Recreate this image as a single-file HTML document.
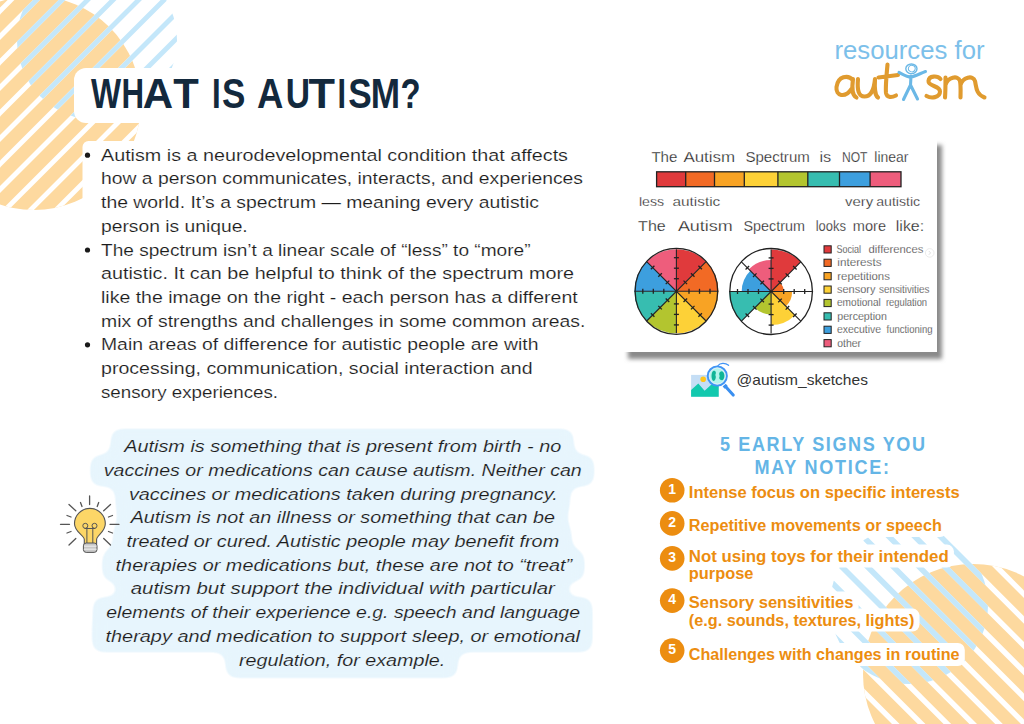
<!DOCTYPE html>
<html><head><meta charset="utf-8">
<style>
html,body{margin:0;padding:0;background:#fff;}
body{width:1024px;height:724px;overflow:hidden;position:relative;font-family:"Liberation Sans",sans-serif;}
svg{position:absolute;left:0;top:0;}
</style></head><body>
<svg width="1024" height="724" viewBox="0 0 1024 724">
<defs>
<clipPath id="co1"><circle cx="34" cy="103" r="107"/></clipPath>
<clipPath id="cb1"><circle cx="97" cy="40" r="80"/></clipPath>
<clipPath id="co2"><circle cx="973" cy="674" r="110"/></clipPath>
<clipPath id="cb2"><circle cx="909" cy="605" r="79"/></clipPath>
<filter id="goo" filterUnits="userSpaceOnUse" x="60" y="400" width="580" height="300"><feGaussianBlur stdDeviation="6.5"/><feComponentTransfer><feFuncA type="linear" slope="8" intercept="-3.5"/></feComponentTransfer></filter>
<filter id="shd" x="-10%" y="-10%" width="130%" height="130%"><feGaussianBlur stdDeviation="2.2"/></filter>
</defs>

<circle cx="34" cy="103" r="107" fill="#fdd99f"/>
<g clip-path="url(#co1)" stroke="#ffffff" stroke-width="4.8"><line x1="-316.00" y1="225" x2="-76.00" y2="-15"/><line x1="-290.50" y1="225" x2="-50.50" y2="-15"/><line x1="-265.00" y1="225" x2="-25.00" y2="-15"/><line x1="-239.50" y1="225" x2="0.50" y2="-15"/><line x1="-214.00" y1="225" x2="26.00" y2="-15"/><line x1="-188.50" y1="225" x2="51.50" y2="-15"/><line x1="-163.00" y1="225" x2="77.00" y2="-15"/><line x1="-137.50" y1="225" x2="102.50" y2="-15"/><line x1="-112.00" y1="225" x2="128.00" y2="-15"/><line x1="-86.50" y1="225" x2="153.50" y2="-15"/><line x1="-61.00" y1="225" x2="179.00" y2="-15"/><line x1="-35.50" y1="225" x2="204.50" y2="-15"/><line x1="-10.00" y1="225" x2="230.00" y2="-15"/><line x1="15.50" y1="225" x2="255.50" y2="-15"/><line x1="41.00" y1="225" x2="281.00" y2="-15"/><line x1="66.50" y1="225" x2="306.50" y2="-15"/><line x1="92.00" y1="225" x2="332.00" y2="-15"/><line x1="117.50" y1="225" x2="357.50" y2="-15"/><line x1="143.00" y1="225" x2="383.00" y2="-15"/></g>
<g clip-path="url(#cb1)" stroke="#c4e7fa" stroke-width="4.9"><line x1="-170.00" y1="130" x2="10.00" y2="-50"/><line x1="-144.50" y1="130" x2="35.50" y2="-50"/><line x1="-119.00" y1="130" x2="61.00" y2="-50"/><line x1="-93.50" y1="130" x2="86.50" y2="-50"/><line x1="-68.00" y1="130" x2="112.00" y2="-50"/><line x1="-42.50" y1="130" x2="137.50" y2="-50"/><line x1="-17.00" y1="130" x2="163.00" y2="-50"/><line x1="8.50" y1="130" x2="188.50" y2="-50"/><line x1="34.00" y1="130" x2="214.00" y2="-50"/><line x1="59.50" y1="130" x2="239.50" y2="-50"/><line x1="85.00" y1="130" x2="265.00" y2="-50"/><line x1="110.50" y1="130" x2="290.50" y2="-50"/><line x1="136.00" y1="130" x2="316.00" y2="-50"/><line x1="161.50" y1="130" x2="341.50" y2="-50"/></g>
<circle cx="973" cy="674" r="110" fill="#fdd99f"/>
<g clip-path="url(#co2)" stroke="#ffffff" stroke-width="5.4"><line x1="623.60" y1="555" x2="863.60" y2="795"/><line x1="649.40" y1="555" x2="889.40" y2="795"/><line x1="675.20" y1="555" x2="915.20" y2="795"/><line x1="701.00" y1="555" x2="941.00" y2="795"/><line x1="726.80" y1="555" x2="966.80" y2="795"/><line x1="752.60" y1="555" x2="992.60" y2="795"/><line x1="778.40" y1="555" x2="1018.40" y2="795"/><line x1="804.20" y1="555" x2="1044.20" y2="795"/><line x1="830.00" y1="555" x2="1070.00" y2="795"/><line x1="855.80" y1="555" x2="1095.80" y2="795"/><line x1="881.60" y1="555" x2="1121.60" y2="795"/><line x1="907.40" y1="555" x2="1147.40" y2="795"/><line x1="933.20" y1="555" x2="1173.20" y2="795"/><line x1="959.00" y1="555" x2="1199.00" y2="795"/><line x1="984.80" y1="555" x2="1224.80" y2="795"/><line x1="1010.60" y1="555" x2="1250.60" y2="795"/><line x1="1036.40" y1="555" x2="1276.40" y2="795"/><line x1="1062.20" y1="555" x2="1302.20" y2="795"/></g>
<g clip-path="url(#cb2)" stroke="#c4e7fa" stroke-width="5.6"><line x1="635.20" y1="515" x2="815.20" y2="695"/><line x1="661.00" y1="515" x2="841.00" y2="695"/><line x1="686.80" y1="515" x2="866.80" y2="695"/><line x1="712.60" y1="515" x2="892.60" y2="695"/><line x1="738.40" y1="515" x2="918.40" y2="695"/><line x1="764.20" y1="515" x2="944.20" y2="695"/><line x1="790.00" y1="515" x2="970.00" y2="695"/><line x1="815.80" y1="515" x2="995.80" y2="695"/><line x1="841.60" y1="515" x2="1021.60" y2="695"/><line x1="867.40" y1="515" x2="1047.40" y2="695"/><line x1="893.20" y1="515" x2="1073.20" y2="695"/><line x1="919.00" y1="515" x2="1099.00" y2="695"/><line x1="944.80" y1="515" x2="1124.80" y2="695"/><line x1="970.60" y1="515" x2="1150.60" y2="695"/></g>
</svg>
<svg width="1024" height="724" viewBox="0 0 1024 724">
<rect x="74" y="68" width="360" height="55" rx="12" fill="#fff"/>
<rect x="82.5" y="141" width="520" height="270" rx="6" fill="#fff"/>
<text transform="translate(90.97,107.5) scale(0.758,1)" font-family="Liberation Sans" font-size="42" font-weight="bold" fill="#13293d">W</text>
<text transform="translate(121.51,107.5) scale(0.745,1)" font-family="Liberation Sans" font-size="42" font-weight="bold" fill="#13293d">H</text>
<text transform="translate(142.75,107.5) scale(1.001,1)" font-family="Liberation Sans" font-size="42" font-weight="bold" fill="#13293d">A</text>
<text transform="translate(173.23,107.5) scale(0.995,1)" font-family="Liberation Sans" font-size="42" font-weight="bold" fill="#13293d">T</text>
<text transform="translate(211.91,107.5) scale(0.744,1)" font-family="Liberation Sans" font-size="42" font-weight="bold" fill="#13293d">I</text>
<text transform="translate(221.99,107.5) scale(0.835,1)" font-family="Liberation Sans" font-size="42" font-weight="bold" fill="#13293d">S</text>
<text transform="translate(257.09,107.5) scale(0.869,1)" font-family="Liberation Sans" font-size="42" font-weight="bold" fill="#13293d">A</text>
<text transform="translate(285.78,107.5) scale(0.800,1)" font-family="Liberation Sans" font-size="42" font-weight="bold" fill="#13293d">U</text>
<text transform="translate(308.41,107.5) scale(1.031,1)" font-family="Liberation Sans" font-size="42" font-weight="bold" fill="#13293d">T</text>
<text transform="translate(337.56,107.5) scale(0.727,1)" font-family="Liberation Sans" font-size="42" font-weight="bold" fill="#13293d">I</text>
<text transform="translate(348.29,107.5) scale(0.839,1)" font-family="Liberation Sans" font-size="42" font-weight="bold" fill="#13293d">S</text>
<text transform="translate(370.65,107.5) scale(0.838,1)" font-family="Liberation Sans" font-size="42" font-weight="bold" fill="#13293d">M</text>
<text transform="translate(400.49,107.5) scale(0.784,1)" font-family="Liberation Sans" font-size="42" font-weight="bold" fill="#13293d">?</text>
<text x="101.0" y="160.7" font-family="Liberation Sans" font-size="16.8" fill="#1c1c1c" font-weight="normal" font-style="normal" text-anchor="start" textLength="467.0" lengthAdjust="spacingAndGlyphs" stroke="#fff" stroke-width="0.15" stroke-linejoin="round">Autism is a neurodevelopmental condition that affects</text>
<circle cx="87.5" cy="155.2" r="2.6" fill="#1a1a1a"/>
<text x="101.0" y="184.4" font-family="Liberation Sans" font-size="16.8" fill="#1c1c1c" font-weight="normal" font-style="normal" text-anchor="start" textLength="482.0" lengthAdjust="spacingAndGlyphs" stroke="#fff" stroke-width="0.15" stroke-linejoin="round">how a person communicates, interacts, and experiences</text>
<text x="101.0" y="208.1" font-family="Liberation Sans" font-size="16.8" fill="#1c1c1c" font-weight="normal" font-style="normal" text-anchor="start" textLength="438.0" lengthAdjust="spacingAndGlyphs" stroke="#fff" stroke-width="0.15" stroke-linejoin="round">the world. It’s a spectrum — meaning every autistic</text>
<text x="101.0" y="231.8" font-family="Liberation Sans" font-size="16.8" fill="#1c1c1c" font-weight="normal" font-style="normal" text-anchor="start" textLength="146.7" lengthAdjust="spacingAndGlyphs" stroke="#fff" stroke-width="0.15" stroke-linejoin="round">person is unique.</text>
<text x="101.0" y="255.5" font-family="Liberation Sans" font-size="16.8" fill="#1c1c1c" font-weight="normal" font-style="normal" text-anchor="start" textLength="429.5" lengthAdjust="spacingAndGlyphs" stroke="#fff" stroke-width="0.15" stroke-linejoin="round">The spectrum isn’t a linear scale of “less” to “more”</text>
<circle cx="87.5" cy="250.0" r="2.6" fill="#1a1a1a"/>
<text x="101.0" y="279.2" font-family="Liberation Sans" font-size="16.8" fill="#1c1c1c" font-weight="normal" font-style="normal" text-anchor="start" textLength="473.0" lengthAdjust="spacingAndGlyphs" stroke="#fff" stroke-width="0.15" stroke-linejoin="round">autistic. It can be helpful to think of the spectrum more</text>
<text x="101.0" y="302.9" font-family="Liberation Sans" font-size="16.8" fill="#1c1c1c" font-weight="normal" font-style="normal" text-anchor="start" textLength="476.7" lengthAdjust="spacingAndGlyphs" stroke="#fff" stroke-width="0.15" stroke-linejoin="round">like the image on the right - each person has a different</text>
<text x="101.0" y="326.6" font-family="Liberation Sans" font-size="16.8" fill="#1c1c1c" font-weight="normal" font-style="normal" text-anchor="start" textLength="484.4" lengthAdjust="spacingAndGlyphs" stroke="#fff" stroke-width="0.15" stroke-linejoin="round">mix of strengths and challenges in some common areas.</text>
<text x="101.0" y="350.3" font-family="Liberation Sans" font-size="16.8" fill="#1c1c1c" font-weight="normal" font-style="normal" text-anchor="start" textLength="437.4" lengthAdjust="spacingAndGlyphs" stroke="#fff" stroke-width="0.15" stroke-linejoin="round">Main areas of difference for autistic people are with</text>
<circle cx="87.5" cy="344.8" r="2.6" fill="#1a1a1a"/>
<text x="101.0" y="374.0" font-family="Liberation Sans" font-size="16.8" fill="#1c1c1c" font-weight="normal" font-style="normal" text-anchor="start" textLength="431.6" lengthAdjust="spacingAndGlyphs" stroke="#fff" stroke-width="0.15" stroke-linejoin="round">processing, communication, social interaction and</text>
<text x="101.0" y="397.7" font-family="Liberation Sans" font-size="16.8" fill="#1c1c1c" font-weight="normal" font-style="normal" text-anchor="start" textLength="177.0" lengthAdjust="spacingAndGlyphs" stroke="#fff" stroke-width="0.15" stroke-linejoin="round">sensory experiences.</text>
<g fill="#e7f5fd" filter="url(#goo)">
<rect x="110.7" y="428.7" width="463.1" height="34.0"/>
<rect x="90.2" y="454.9" width="504.1" height="31.5"/>
<rect x="115.4" y="478.6" width="454.8" height="31.5"/>
<rect x="117.2" y="502.3" width="450.2" height="31.5"/>
<rect x="112.9" y="526.0" width="458.8" height="31.5"/>
<rect x="102.1" y="549.7" width="482.5" height="31.5"/>
<rect x="117.2" y="573.4" width="450.2" height="31.5"/>
<rect x="92.8" y="597.1" width="499.7" height="31.5"/>
<rect x="92.0" y="620.8" width="500.5" height="31.5"/>
<rect x="225.5" y="644.5" width="232.3" height="33.5"/>
</g>
<text x="124.2" y="452.2" font-family="Liberation Sans" font-size="16.8" fill="#1c1c1c" font-weight="normal" font-style="italic" text-anchor="start" textLength="437.1" lengthAdjust="spacingAndGlyphs" stroke="#e7f5fd" stroke-width="0.15" stroke-linejoin="round">Autism is something that is present from birth - no</text>
<text x="103.7" y="475.9" font-family="Liberation Sans" font-size="16.8" fill="#1c1c1c" font-weight="normal" font-style="italic" text-anchor="start" textLength="478.1" lengthAdjust="spacingAndGlyphs" stroke="#e7f5fd" stroke-width="0.15" stroke-linejoin="round">vaccines or medications can cause autism. Neither can</text>
<text x="128.9" y="499.6" font-family="Liberation Sans" font-size="16.8" fill="#1c1c1c" font-weight="normal" font-style="italic" text-anchor="start" textLength="428.8" lengthAdjust="spacingAndGlyphs" stroke="#e7f5fd" stroke-width="0.15" stroke-linejoin="round">vaccines or medications taken during pregnancy.</text>
<text x="130.7" y="523.3" font-family="Liberation Sans" font-size="16.8" fill="#1c1c1c" font-weight="normal" font-style="italic" text-anchor="start" textLength="424.2" lengthAdjust="spacingAndGlyphs" stroke="#e7f5fd" stroke-width="0.15" stroke-linejoin="round">Autism is not an illness or something that can be</text>
<text x="126.4" y="547.0" font-family="Liberation Sans" font-size="16.8" fill="#1c1c1c" font-weight="normal" font-style="italic" text-anchor="start" textLength="432.8" lengthAdjust="spacingAndGlyphs" stroke="#e7f5fd" stroke-width="0.15" stroke-linejoin="round">treated or cured. Autistic people may benefit from</text>
<text x="115.6" y="570.7" font-family="Liberation Sans" font-size="16.8" fill="#1c1c1c" font-weight="normal" font-style="italic" text-anchor="start" textLength="456.5" lengthAdjust="spacingAndGlyphs" stroke="#e7f5fd" stroke-width="0.15" stroke-linejoin="round">therapies or medications but, these are not to “treat”</text>
<text x="130.7" y="594.4" font-family="Liberation Sans" font-size="16.8" fill="#1c1c1c" font-weight="normal" font-style="italic" text-anchor="start" textLength="424.2" lengthAdjust="spacingAndGlyphs" stroke="#e7f5fd" stroke-width="0.15" stroke-linejoin="round">autism but support the individual with particular</text>
<text x="106.3" y="618.1" font-family="Liberation Sans" font-size="16.8" fill="#1c1c1c" font-weight="normal" font-style="italic" text-anchor="start" textLength="473.7" lengthAdjust="spacingAndGlyphs" stroke="#e7f5fd" stroke-width="0.15" stroke-linejoin="round">elements of their experience e.g. speech and language</text>
<text x="105.5" y="641.8" font-family="Liberation Sans" font-size="16.8" fill="#1c1c1c" font-weight="normal" font-style="italic" text-anchor="start" textLength="474.5" lengthAdjust="spacingAndGlyphs" stroke="#e7f5fd" stroke-width="0.15" stroke-linejoin="round">therapy and medication to support sleep, or emotional</text>
<text x="239.0" y="665.5" font-family="Liberation Sans" font-size="16.8" fill="#1c1c1c" font-weight="normal" font-style="italic" text-anchor="start" textLength="206.3" lengthAdjust="spacingAndGlyphs" stroke="#e7f5fd" stroke-width="0.15" stroke-linejoin="round">regulation, for example.</text>
<g stroke="#555" stroke-width="1.3" stroke-linecap="round" fill="none">
<line x1="89.6" y1="496" x2="89.6" y2="504.5"/>
<line x1="60.5" y1="524.3" x2="69.5" y2="524.3"/>
<line x1="110" y1="524.3" x2="119" y2="524.3"/>
<line x1="69" y1="504.5" x2="75.8" y2="510.8"/>
<line x1="110.5" y1="504.5" x2="103.7" y2="510.8"/>
<line x1="69" y1="545" x2="75.8" y2="538.5"/>
<line x1="110.5" y1="545" x2="103.7" y2="538.5"/>
<line x1="80.5" y1="502.5" x2="82" y2="506.5"/>
<line x1="98.7" y1="502.5" x2="97.2" y2="506.5"/>
<line x1="67" y1="515.5" x2="71" y2="517"/>
<line x1="112.5" y1="515.5" x2="108.5" y2="517"/>
<line x1="67" y1="533" x2="71" y2="531.5"/>
<line x1="112.5" y1="533" x2="108.5" y2="531.5"/>
</g>
<path d="M84.3 544 L84.3 539.5 C84.3 535.5 74.5 532 74.5 523.8 A15.4 15.4 0 1 1 105.3 523.8 C105.3 532 96.6 535.5 96.6 539.5 L96.6 544 Z" fill="#fcd667" stroke="#555" stroke-width="1.1"/>
<g stroke="#555" stroke-width="1" fill="none">
<path d="M86.9 543.5 L86.9 527.5 M92.8 543.5 L92.8 527.5 M84.5 528.5 L95.3 528.5"/>
<circle cx="85.3" cy="525.8" r="2.5"/><circle cx="94.5" cy="525.8" r="2.5"/>
</g>
<rect x="83.4" y="543" width="13.6" height="9.4" rx="2.8" fill="#c8c8c8" stroke="#555" stroke-width="1"/>
<line x1="84" y1="546.2" x2="96.5" y2="546.2" stroke="#f0f0f0" stroke-width="1"/>
<line x1="84" y1="549.2" x2="96.5" y2="549.2" stroke="#f0f0f0" stroke-width="1"/>

<rect x="628" y="145" width="314" height="214" fill="#8a8a8a" filter="url(#shd)"/>
<rect x="623" y="140" width="314" height="212" fill="#fff"/>
<text x="651.4" y="162.3" font-family="Liberation Sans" font-size="14" fill="#222" font-weight="normal" font-style="normal" text-anchor="start" textLength="26.0" lengthAdjust="spacingAndGlyphs" stroke="#fff" stroke-width="0.25">The</text>
<text x="683.4" y="162.3" font-family="Liberation Sans" font-size="14" fill="#222" font-weight="normal" font-style="normal" text-anchor="start" textLength="51.8" lengthAdjust="spacingAndGlyphs" stroke="#fff" stroke-width="0.25">Autism</text>
<text x="745.4" y="162.3" font-family="Liberation Sans" font-size="14" fill="#222" font-weight="normal" font-style="normal" text-anchor="start" textLength="64.4" lengthAdjust="spacingAndGlyphs" stroke="#fff" stroke-width="0.25">Spectrum</text>
<text x="819.5" y="162.3" font-family="Liberation Sans" font-size="14" fill="#222" font-weight="normal" font-style="normal" text-anchor="start" textLength="11.8" lengthAdjust="spacingAndGlyphs" stroke="#fff" stroke-width="0.25">is</text>
<text x="842.0" y="162.3" font-family="Liberation Sans" font-size="14" fill="#222" font-weight="normal" font-style="normal" text-anchor="start" textLength="25.5" lengthAdjust="spacingAndGlyphs" stroke="#fff" stroke-width="0.25">NOT</text>
<text x="874.3" y="162.3" font-family="Liberation Sans" font-size="14" fill="#222" font-weight="normal" font-style="normal" text-anchor="start" textLength="34.2" lengthAdjust="spacingAndGlyphs" stroke="#fff" stroke-width="0.25">linear</text>
<rect x="656.60" y="171.8" width="29.10" height="14.9" fill="#e03a3c"/>
<rect x="685.70" y="171.8" width="28.80" height="14.9" fill="#f26a25"/>
<rect x="714.50" y="171.8" width="29.80" height="14.9" fill="#f8a324"/>
<rect x="744.30" y="171.8" width="33.60" height="14.9" fill="#fdd137"/>
<rect x="777.90" y="171.8" width="29.90" height="14.9" fill="#b3c52f"/>
<rect x="807.80" y="171.8" width="31.70" height="14.9" fill="#37bdb0"/>
<rect x="839.50" y="171.8" width="30.60" height="14.9" fill="#3d9fde"/>
<rect x="870.10" y="171.8" width="30.90" height="14.9" fill="#ee5d7c"/>
<g stroke="#222" stroke-width="1.3" fill="none"><rect x="656.6" y="171.8" width="244.4" height="14.9"/><line x1="685.7" y1="171.8" x2="685.7" y2="186.7"/><line x1="714.5" y1="171.8" x2="714.5" y2="186.7"/><line x1="744.3" y1="171.8" x2="744.3" y2="186.7"/><line x1="777.9" y1="171.8" x2="777.9" y2="186.7"/><line x1="807.8" y1="171.8" x2="807.8" y2="186.7"/><line x1="839.5" y1="171.8" x2="839.5" y2="186.7"/><line x1="870.1" y1="171.8" x2="870.1" y2="186.7"/></g>
<text x="638.9" y="205.5" font-family="Liberation Sans" font-size="13" fill="#222" font-weight="normal" font-style="normal" text-anchor="start" textLength="25.2" lengthAdjust="spacingAndGlyphs" stroke="#fff" stroke-width="0.25">less</text>
<text x="672.5" y="205.5" font-family="Liberation Sans" font-size="13" fill="#222" font-weight="normal" font-style="normal" text-anchor="start" textLength="47.8" lengthAdjust="spacingAndGlyphs" stroke="#fff" stroke-width="0.25">autistic</text>
<text x="845.0" y="205.5" font-family="Liberation Sans" font-size="13" fill="#222" font-weight="normal" font-style="normal" text-anchor="start" textLength="28.3" lengthAdjust="spacingAndGlyphs" stroke="#fff" stroke-width="0.25">very</text>
<text x="876.2" y="205.5" font-family="Liberation Sans" font-size="13" fill="#222" font-weight="normal" font-style="normal" text-anchor="start" textLength="44.0" lengthAdjust="spacingAndGlyphs" stroke="#fff" stroke-width="0.25">autistic</text>
<text x="638.1" y="231.0" font-family="Liberation Sans" font-size="14" fill="#222" font-weight="normal" font-style="normal" text-anchor="start" textLength="27.6" lengthAdjust="spacingAndGlyphs" stroke="#fff" stroke-width="0.25">The</text>
<text x="677.9" y="231.0" font-family="Liberation Sans" font-size="14" fill="#222" font-weight="normal" font-style="normal" text-anchor="start" textLength="54.9" lengthAdjust="spacingAndGlyphs" stroke="#fff" stroke-width="0.25">Autism</text>
<text x="743.5" y="231.0" font-family="Liberation Sans" font-size="14" fill="#222" font-weight="normal" font-style="normal" text-anchor="start" textLength="61.5" lengthAdjust="spacingAndGlyphs" stroke="#fff" stroke-width="0.25">Spectrum</text>
<text x="815.7" y="231.0" font-family="Liberation Sans" font-size="14" fill="#222" font-weight="normal" font-style="normal" text-anchor="start" textLength="30.3" lengthAdjust="spacingAndGlyphs" stroke="#fff" stroke-width="0.25">looks</text>
<text x="852.8" y="231.0" font-family="Liberation Sans" font-size="14" fill="#222" font-weight="normal" font-style="normal" text-anchor="start" textLength="33.2" lengthAdjust="spacingAndGlyphs" stroke="#fff" stroke-width="0.25">more</text>
<text x="895.8" y="231.0" font-family="Liberation Sans" font-size="14" fill="#222" font-weight="normal" font-style="normal" text-anchor="start" textLength="28.4" lengthAdjust="spacingAndGlyphs" stroke="#fff" stroke-width="0.25">like:</text>
<path d="M676.4,291.3 L676.40,249.30 A42,42 0 0 1 706.10,261.60 Z" fill="#e03a3c"/><path d="M676.4,291.3 L706.10,261.60 A42,42 0 0 1 718.40,291.30 Z" fill="#f26a25"/><path d="M676.4,291.3 L718.40,291.30 A42,42 0 0 1 706.10,321.00 Z" fill="#f8a324"/><path d="M676.4,291.3 L706.10,321.00 A42,42 0 0 1 676.40,333.30 Z" fill="#fdd137"/><path d="M676.4,291.3 L676.40,333.30 A42,42 0 0 1 646.70,321.00 Z" fill="#b3c52f"/><path d="M676.4,291.3 L646.70,321.00 A42,42 0 0 1 634.40,291.30 Z" fill="#37bdb0"/><path d="M676.4,291.3 L634.40,291.30 A42,42 0 0 1 646.70,261.60 Z" fill="#3d9fde"/><path d="M676.4,291.3 L646.70,261.60 A42,42 0 0 1 676.40,249.30 Z" fill="#ee5d7c"/><ellipse cx="676.4" cy="291.3" rx="41.3" ry="43" fill="none" stroke="#222" stroke-width="1.3"/><line x1="676.40" y1="333.30" x2="676.40" y2="249.30" stroke="#222" stroke-width="1.1"/><line x1="673.90" y1="278.70" x2="678.90" y2="278.70" stroke="#222" stroke-width="1.3"/><line x1="673.90" y1="303.90" x2="678.90" y2="303.90" stroke="#222" stroke-width="1.3"/><line x1="673.90" y1="268.20" x2="678.90" y2="268.20" stroke="#222" stroke-width="1.3"/><line x1="673.90" y1="314.40" x2="678.90" y2="314.40" stroke="#222" stroke-width="1.3"/><line x1="673.90" y1="257.70" x2="678.90" y2="257.70" stroke="#222" stroke-width="1.3"/><line x1="673.90" y1="324.90" x2="678.90" y2="324.90" stroke="#222" stroke-width="1.3"/><line x1="646.70" y1="321.00" x2="706.10" y2="261.60" stroke="#222" stroke-width="1.1"/><line x1="683.54" y1="280.62" x2="687.08" y2="284.16" stroke="#222" stroke-width="1.3"/><line x1="665.72" y1="298.44" x2="669.26" y2="301.98" stroke="#222" stroke-width="1.3"/><line x1="690.97" y1="273.20" x2="694.50" y2="276.73" stroke="#222" stroke-width="1.3"/><line x1="658.30" y1="305.87" x2="661.83" y2="309.40" stroke="#222" stroke-width="1.3"/><line x1="698.39" y1="265.77" x2="701.93" y2="269.31" stroke="#222" stroke-width="1.3"/><line x1="650.87" y1="313.29" x2="654.41" y2="316.83" stroke="#222" stroke-width="1.3"/><line x1="634.40" y1="291.30" x2="718.40" y2="291.30" stroke="#222" stroke-width="1.1"/><line x1="689.00" y1="288.80" x2="689.00" y2="293.80" stroke="#222" stroke-width="1.3"/><line x1="663.80" y1="288.80" x2="663.80" y2="293.80" stroke="#222" stroke-width="1.3"/><line x1="699.50" y1="288.80" x2="699.50" y2="293.80" stroke="#222" stroke-width="1.3"/><line x1="653.30" y1="288.80" x2="653.30" y2="293.80" stroke="#222" stroke-width="1.3"/><line x1="710.00" y1="288.80" x2="710.00" y2="293.80" stroke="#222" stroke-width="1.3"/><line x1="642.80" y1="288.80" x2="642.80" y2="293.80" stroke="#222" stroke-width="1.3"/><line x1="646.70" y1="261.60" x2="706.10" y2="321.00" stroke="#222" stroke-width="1.1"/><line x1="687.08" y1="298.44" x2="683.54" y2="301.98" stroke="#222" stroke-width="1.3"/><line x1="669.26" y1="280.62" x2="665.72" y2="284.16" stroke="#222" stroke-width="1.3"/><line x1="694.50" y1="305.87" x2="690.97" y2="309.40" stroke="#222" stroke-width="1.3"/><line x1="661.83" y1="273.20" x2="658.30" y2="276.73" stroke="#222" stroke-width="1.3"/><line x1="701.93" y1="313.29" x2="698.39" y2="316.83" stroke="#222" stroke-width="1.3"/><line x1="654.41" y1="265.77" x2="650.87" y2="269.31" stroke="#222" stroke-width="1.3"/>
<path d="M771.1,291.5 L771.10,249.50 A42,42 0 0 1 800.80,261.80 Z" fill="#e03a3c"/><path d="M771.1,291.5 L780.01,282.59 A12.6,12.6 0 0 1 783.70,291.50 Z" fill="#f26a25"/><path d="M771.1,291.5 L792.10,291.50 A21.0,21.0 0 0 1 785.95,306.35 Z" fill="#f8a324"/><path d="M771.1,291.5 L794.86,315.26 A33.6,33.6 0 0 1 771.10,325.10 Z" fill="#fdd137"/><path d="M771.1,291.5 L771.10,314.60 A23.1,23.1 0 0 1 754.77,307.83 Z" fill="#b3c52f"/><path d="M771.1,291.5 L741.40,321.20 A42,42 0 0 1 729.10,291.50 Z" fill="#37bdb0"/><path d="M771.1,291.5 L741.70,291.50 A29.4,29.4 0 0 1 750.31,270.71 Z" fill="#3d9fde"/><path d="M771.1,291.5 L748.83,269.23 A31.5,31.5 0 0 1 771.10,260.00 Z" fill="#ee5d7c"/><ellipse cx="771.1" cy="291.5" rx="41.3" ry="43" fill="none" stroke="#222" stroke-width="1.3"/><line x1="771.10" y1="333.50" x2="771.10" y2="249.50" stroke="#222" stroke-width="1.1"/><line x1="768.60" y1="278.90" x2="773.60" y2="278.90" stroke="#222" stroke-width="1.3"/><line x1="768.60" y1="304.10" x2="773.60" y2="304.10" stroke="#222" stroke-width="1.3"/><line x1="768.60" y1="268.40" x2="773.60" y2="268.40" stroke="#222" stroke-width="1.3"/><line x1="768.60" y1="314.60" x2="773.60" y2="314.60" stroke="#222" stroke-width="1.3"/><line x1="768.60" y1="257.90" x2="773.60" y2="257.90" stroke="#222" stroke-width="1.3"/><line x1="768.60" y1="325.10" x2="773.60" y2="325.10" stroke="#222" stroke-width="1.3"/><line x1="741.40" y1="321.20" x2="800.80" y2="261.80" stroke="#222" stroke-width="1.1"/><line x1="778.24" y1="280.82" x2="781.78" y2="284.36" stroke="#222" stroke-width="1.3"/><line x1="760.42" y1="298.64" x2="763.96" y2="302.18" stroke="#222" stroke-width="1.3"/><line x1="785.67" y1="273.40" x2="789.20" y2="276.93" stroke="#222" stroke-width="1.3"/><line x1="753.00" y1="306.07" x2="756.53" y2="309.60" stroke="#222" stroke-width="1.3"/><line x1="793.09" y1="265.97" x2="796.63" y2="269.51" stroke="#222" stroke-width="1.3"/><line x1="745.57" y1="313.49" x2="749.11" y2="317.03" stroke="#222" stroke-width="1.3"/><line x1="729.10" y1="291.50" x2="813.10" y2="291.50" stroke="#222" stroke-width="1.1"/><line x1="783.70" y1="289.00" x2="783.70" y2="294.00" stroke="#222" stroke-width="1.3"/><line x1="758.50" y1="289.00" x2="758.50" y2="294.00" stroke="#222" stroke-width="1.3"/><line x1="794.20" y1="289.00" x2="794.20" y2="294.00" stroke="#222" stroke-width="1.3"/><line x1="748.00" y1="289.00" x2="748.00" y2="294.00" stroke="#222" stroke-width="1.3"/><line x1="804.70" y1="289.00" x2="804.70" y2="294.00" stroke="#222" stroke-width="1.3"/><line x1="737.50" y1="289.00" x2="737.50" y2="294.00" stroke="#222" stroke-width="1.3"/><line x1="741.40" y1="261.80" x2="800.80" y2="321.20" stroke="#222" stroke-width="1.1"/><line x1="781.78" y1="298.64" x2="778.24" y2="302.18" stroke="#222" stroke-width="1.3"/><line x1="763.96" y1="280.82" x2="760.42" y2="284.36" stroke="#222" stroke-width="1.3"/><line x1="789.20" y1="306.07" x2="785.67" y2="309.60" stroke="#222" stroke-width="1.3"/><line x1="756.53" y1="273.40" x2="753.00" y2="276.93" stroke="#222" stroke-width="1.3"/><line x1="796.63" y1="313.49" x2="793.09" y2="317.03" stroke="#222" stroke-width="1.3"/><line x1="749.11" y1="265.97" x2="745.57" y2="269.51" stroke="#222" stroke-width="1.3"/>
<rect x="824" y="245.8" width="7.2" height="7.2" fill="#e03a3c" stroke="#222" stroke-width="1"/>
<text x="836.5" y="252.7" font-family="Liberation Sans" font-size="10" fill="#222" font-weight="normal" font-style="normal" text-anchor="start" textLength="24.6" lengthAdjust="spacingAndGlyphs" stroke="#fff" stroke-width="0.25">Social</text>
<text x="868.5" y="252.7" font-family="Liberation Sans" font-size="10" fill="#222" font-weight="normal" font-style="normal" text-anchor="start" textLength="54.8" lengthAdjust="spacingAndGlyphs" stroke="#fff" stroke-width="0.25">differences</text>
<rect x="824" y="259.2" width="7.2" height="7.2" fill="#f26a25" stroke="#222" stroke-width="1"/>
<text x="837.3" y="266.1" font-family="Liberation Sans" font-size="10" fill="#222" font-weight="normal" font-style="normal" text-anchor="start" textLength="44.2" lengthAdjust="spacingAndGlyphs" stroke="#fff" stroke-width="0.25">interests</text>
<rect x="824" y="272.6" width="7.2" height="7.2" fill="#f8a324" stroke="#222" stroke-width="1"/>
<text x="837.3" y="279.5" font-family="Liberation Sans" font-size="10" fill="#222" font-weight="normal" font-style="normal" text-anchor="start" textLength="52.6" lengthAdjust="spacingAndGlyphs" stroke="#fff" stroke-width="0.25">repetitions</text>
<rect x="824" y="286.0" width="7.2" height="7.2" fill="#fdd137" stroke="#222" stroke-width="1"/>
<text x="837.0" y="292.9" font-family="Liberation Sans" font-size="10" fill="#222" font-weight="normal" font-style="normal" text-anchor="start" textLength="38.5" lengthAdjust="spacingAndGlyphs" stroke="#fff" stroke-width="0.25">sensory</text>
<text x="879.0" y="292.9" font-family="Liberation Sans" font-size="10" fill="#222" font-weight="normal" font-style="normal" text-anchor="start" textLength="50.4" lengthAdjust="spacingAndGlyphs" stroke="#fff" stroke-width="0.25">sensitivities</text>
<rect x="824" y="299.4" width="7.2" height="7.2" fill="#b3c52f" stroke="#222" stroke-width="1"/>
<text x="837.0" y="306.3" font-family="Liberation Sans" font-size="10" fill="#222" font-weight="normal" font-style="normal" text-anchor="start" textLength="43.8" lengthAdjust="spacingAndGlyphs" stroke="#fff" stroke-width="0.25">emotional</text>
<text x="885.9" y="306.3" font-family="Liberation Sans" font-size="10" fill="#222" font-weight="normal" font-style="normal" text-anchor="start" textLength="41.2" lengthAdjust="spacingAndGlyphs" stroke="#fff" stroke-width="0.25">regulation</text>
<rect x="824" y="312.8" width="7.2" height="7.2" fill="#37bdb0" stroke="#222" stroke-width="1"/>
<text x="837.3" y="319.7" font-family="Liberation Sans" font-size="10" fill="#222" font-weight="normal" font-style="normal" text-anchor="start" textLength="49.6" lengthAdjust="spacingAndGlyphs" stroke="#fff" stroke-width="0.25">perception</text>
<rect x="824" y="326.2" width="7.2" height="7.2" fill="#3d9fde" stroke="#222" stroke-width="1"/>
<text x="837.0" y="333.1" font-family="Liberation Sans" font-size="10" fill="#222" font-weight="normal" font-style="normal" text-anchor="start" textLength="44.1" lengthAdjust="spacingAndGlyphs" stroke="#fff" stroke-width="0.25">executive</text>
<text x="886.5" y="333.1" font-family="Liberation Sans" font-size="10" fill="#222" font-weight="normal" font-style="normal" text-anchor="start" textLength="46.0" lengthAdjust="spacingAndGlyphs" stroke="#fff" stroke-width="0.25">functioning</text>
<rect x="824" y="339.6" width="7.2" height="7.2" fill="#ee5d7c" stroke="#222" stroke-width="1"/>
<text x="837.3" y="346.5" font-family="Liberation Sans" font-size="10" fill="#222" font-weight="normal" font-style="normal" text-anchor="start" textLength="23.8" lengthAdjust="spacingAndGlyphs" stroke="#fff" stroke-width="0.25">other</text>
<circle cx="929.7" cy="252.9" r="4.3" fill="#fff" stroke="#e6e6e6" stroke-width="0.8"/><path d="M928.8 251 L930.6 252.9 L928.8 254.8" stroke="#d0d0d0" stroke-width="0.7" fill="none"/>
<rect x="691.1" y="374.9" width="27.6" height="21.8" fill="#c5def5"/>
<path d="M691.1 396.7 L691.1 390 L698.3 383.5 L704.6 390.7 L712 384 L718.7 384.5 L718.7 396.7 Z" fill="#12c9ae"/>
<circle cx="703.2" cy="379.3" r="2.8" fill="#fec51b"/>
<line x1="725.5" y1="386.5" x2="733.2" y2="395" stroke="#3a8ff0" stroke-width="3.1" stroke-linecap="round"/>
<line x1="724.2" y1="385.2" x2="726.2" y2="387.4" stroke="#3a8ff0" stroke-width="4.2"/>
<circle cx="717.3" cy="376" r="9.6" fill="#b3f5ea" stroke="#4294f5" stroke-width="1.9"/>
<circle cx="717.3" cy="376" r="7.9" fill="none" stroke="#e8e8ff" stroke-width="0.8"/>
<path d="M713.5 370.8 C716 370.5 716.5 373 715.3 375 C716.5 377 715.5 380.5 713.6 381 C711 380.5 710.8 372 713.5 370.8 Z" fill="#10b597"/>
<path d="M721.8 371.2 C725 371.5 725.5 379.5 722 380.2 C719.5 380 718.5 378 719.8 376 C718.5 373.5 719.5 371.3 721.8 371.2 Z" fill="#10b597"/>
<path d="M718 365.6 C720 363 725 362.5 728.6 365.3" stroke="#4294f5" stroke-width="1.2" fill="none" stroke-linecap="round"/>

<text x="736.6" y="385.0" font-family="Liberation Sans" font-size="14.5" fill="#333" font-weight="normal" font-style="normal" text-anchor="start" textLength="131.3" lengthAdjust="spacingAndGlyphs">@autism_sketches</text>
<text x="834.5" y="58.6" font-family="Liberation Sans" font-size="25.5" fill="#7cc0ea" font-weight="normal" font-style="normal" text-anchor="start" textLength="150.0" lengthAdjust="spacingAndGlyphs">resources for</text>
<g stroke="#e09b2f" stroke-width="4.1" stroke-linecap="round" stroke-linejoin="round" fill="none">
<path d="M853,80 C848,74.5 838,76 836.5,87 C835.5,96 845,98.5 851.5,89 M853,79 C852,87 851.5,95 856.5,97.5"/>
<path d="M858,79 C857,90 858.5,96.5 864.5,96.5 C870.5,96.5 874,90 875,79 M875,79 C874.5,88 874.5,95 878,97.5"/>
<path d="M887.5,64.5 C886.5,75 885.5,88 886,93 C886.8,98 892,97.5 896,95.5 M878.5,77.5 L898,75"/>
<path d="M940.5,79 C937.5,75.5 929,75.5 928.5,81 C928,86.5 940,85.5 940,91.5 C940,98 931,98.5 926.5,96"/>
<path d="M945.5,77.5 C945.5,85 945.5,92 945,97.5 M945.5,85 C947.5,77.5 958,74.5 960,81 C961,87 960.5,92 960.5,97.5 M960.5,85 C962.5,77.5 973,74.5 975,81 C976.5,88 976,94 984.5,97.5"/>
</g>
<g stroke="#6bb8e6" stroke-linecap="round" stroke-linejoin="round" fill="none">
<ellipse cx="911.4" cy="68.8" rx="5.6" ry="4.8" stroke-width="1.4"/>
<ellipse cx="911.8" cy="68.6" rx="3.4" ry="3.2" stroke-width="1" transform="rotate(20 911.8 68.6)"/>
<path d="M899,72.4 C904,75 907,77 911,77 C916,76 921,73 925.5,71.5 M911,76 L910.5,85 L903.5,99.5 M910.5,85 L917.5,99" stroke-width="3.1"/>
</g>
<text transform="translate(720,450.6) scale(0.86,1)" font-family="Liberation Sans" font-size="21" font-weight="bold" fill="#64b5e6" textLength="238.4" lengthAdjust="spacing">5 EARLY SIGNS YOU</text>
<text transform="translate(754.5,474.4) scale(0.86,1)" font-family="Liberation Sans" font-size="21" font-weight="bold" fill="#64b5e6" textLength="156.4" lengthAdjust="spacing">MAY NOTICE:</text>
<rect x="682" y="481.4" width="282.8" height="23" rx="7" fill="#fff"/>
<rect x="682" y="514.0" width="265.0" height="23" rx="7" fill="#fff"/>
<rect x="682" y="544.6" width="271.9" height="23" rx="7" fill="#fff"/>
<rect x="682" y="561.8" width="76.6" height="23" rx="7" fill="#fff"/>
<rect x="682" y="591.4" width="176.6" height="23" rx="7" fill="#fff"/>
<rect x="682" y="608.6" width="237.5" height="23" rx="7" fill="#fff"/>
<rect x="682" y="643.0" width="282.8" height="23" rx="7" fill="#fff"/>
<circle cx="672.2" cy="490.2" r="12.3" fill="#ec8d10"/>
<text x="672.2" y="493.8" font-family="Liberation Sans" font-size="14" fill="#fff" font-weight="bold" font-style="normal" text-anchor="middle">1</text>
<text x="688.8" y="498.4" font-family="Liberation Sans" font-size="17.4" fill="#ec8d10" font-weight="bold" font-style="normal" text-anchor="start" textLength="270.8" lengthAdjust="spacingAndGlyphs">Intense focus on specific interests</text>
<circle cx="672.2" cy="523.4" r="12.3" fill="#ec8d10"/>
<text x="672.2" y="527.0" font-family="Liberation Sans" font-size="14" fill="#fff" font-weight="bold" font-style="normal" text-anchor="middle">2</text>
<text x="688.8" y="531.0" font-family="Liberation Sans" font-size="17.4" fill="#ec8d10" font-weight="bold" font-style="normal" text-anchor="start" textLength="253.0" lengthAdjust="spacingAndGlyphs">Repetitive movements or speech</text>
<circle cx="672.2" cy="558.4" r="12.3" fill="#ec8d10"/>
<text x="672.2" y="562.0" font-family="Liberation Sans" font-size="14" fill="#fff" font-weight="bold" font-style="normal" text-anchor="middle">3</text>
<text x="688.8" y="561.6" font-family="Liberation Sans" font-size="17.4" fill="#ec8d10" font-weight="bold" font-style="normal" text-anchor="start" textLength="259.9" lengthAdjust="spacingAndGlyphs">Not using toys for their intended</text>
<text x="688.8" y="578.8" font-family="Liberation Sans" font-size="17.4" fill="#ec8d10" font-weight="bold" font-style="normal" text-anchor="start" textLength="64.6" lengthAdjust="spacingAndGlyphs">purpose</text>
<circle cx="672.2" cy="600.6" r="12.3" fill="#ec8d10"/>
<text x="672.2" y="604.2" font-family="Liberation Sans" font-size="14" fill="#fff" font-weight="bold" font-style="normal" text-anchor="middle">4</text>
<text x="688.8" y="608.4" font-family="Liberation Sans" font-size="17.4" fill="#ec8d10" font-weight="bold" font-style="normal" text-anchor="start" textLength="164.6" lengthAdjust="spacingAndGlyphs">Sensory sensitivities</text>
<text x="688.8" y="625.6" font-family="Liberation Sans" font-size="17.4" fill="#ec8d10" font-weight="bold" font-style="normal" text-anchor="start" textLength="225.5" lengthAdjust="spacingAndGlyphs">(e.g. sounds, textures, lights)</text>
<circle cx="672.2" cy="650.6" r="12.3" fill="#ec8d10"/>
<text x="672.2" y="654.2" font-family="Liberation Sans" font-size="14" fill="#fff" font-weight="bold" font-style="normal" text-anchor="middle">5</text>
<text x="688.8" y="660.0" font-family="Liberation Sans" font-size="17.4" fill="#ec8d10" font-weight="bold" font-style="normal" text-anchor="start" textLength="270.8" lengthAdjust="spacingAndGlyphs">Challenges with changes in routine</text>
</svg>
</body></html>
